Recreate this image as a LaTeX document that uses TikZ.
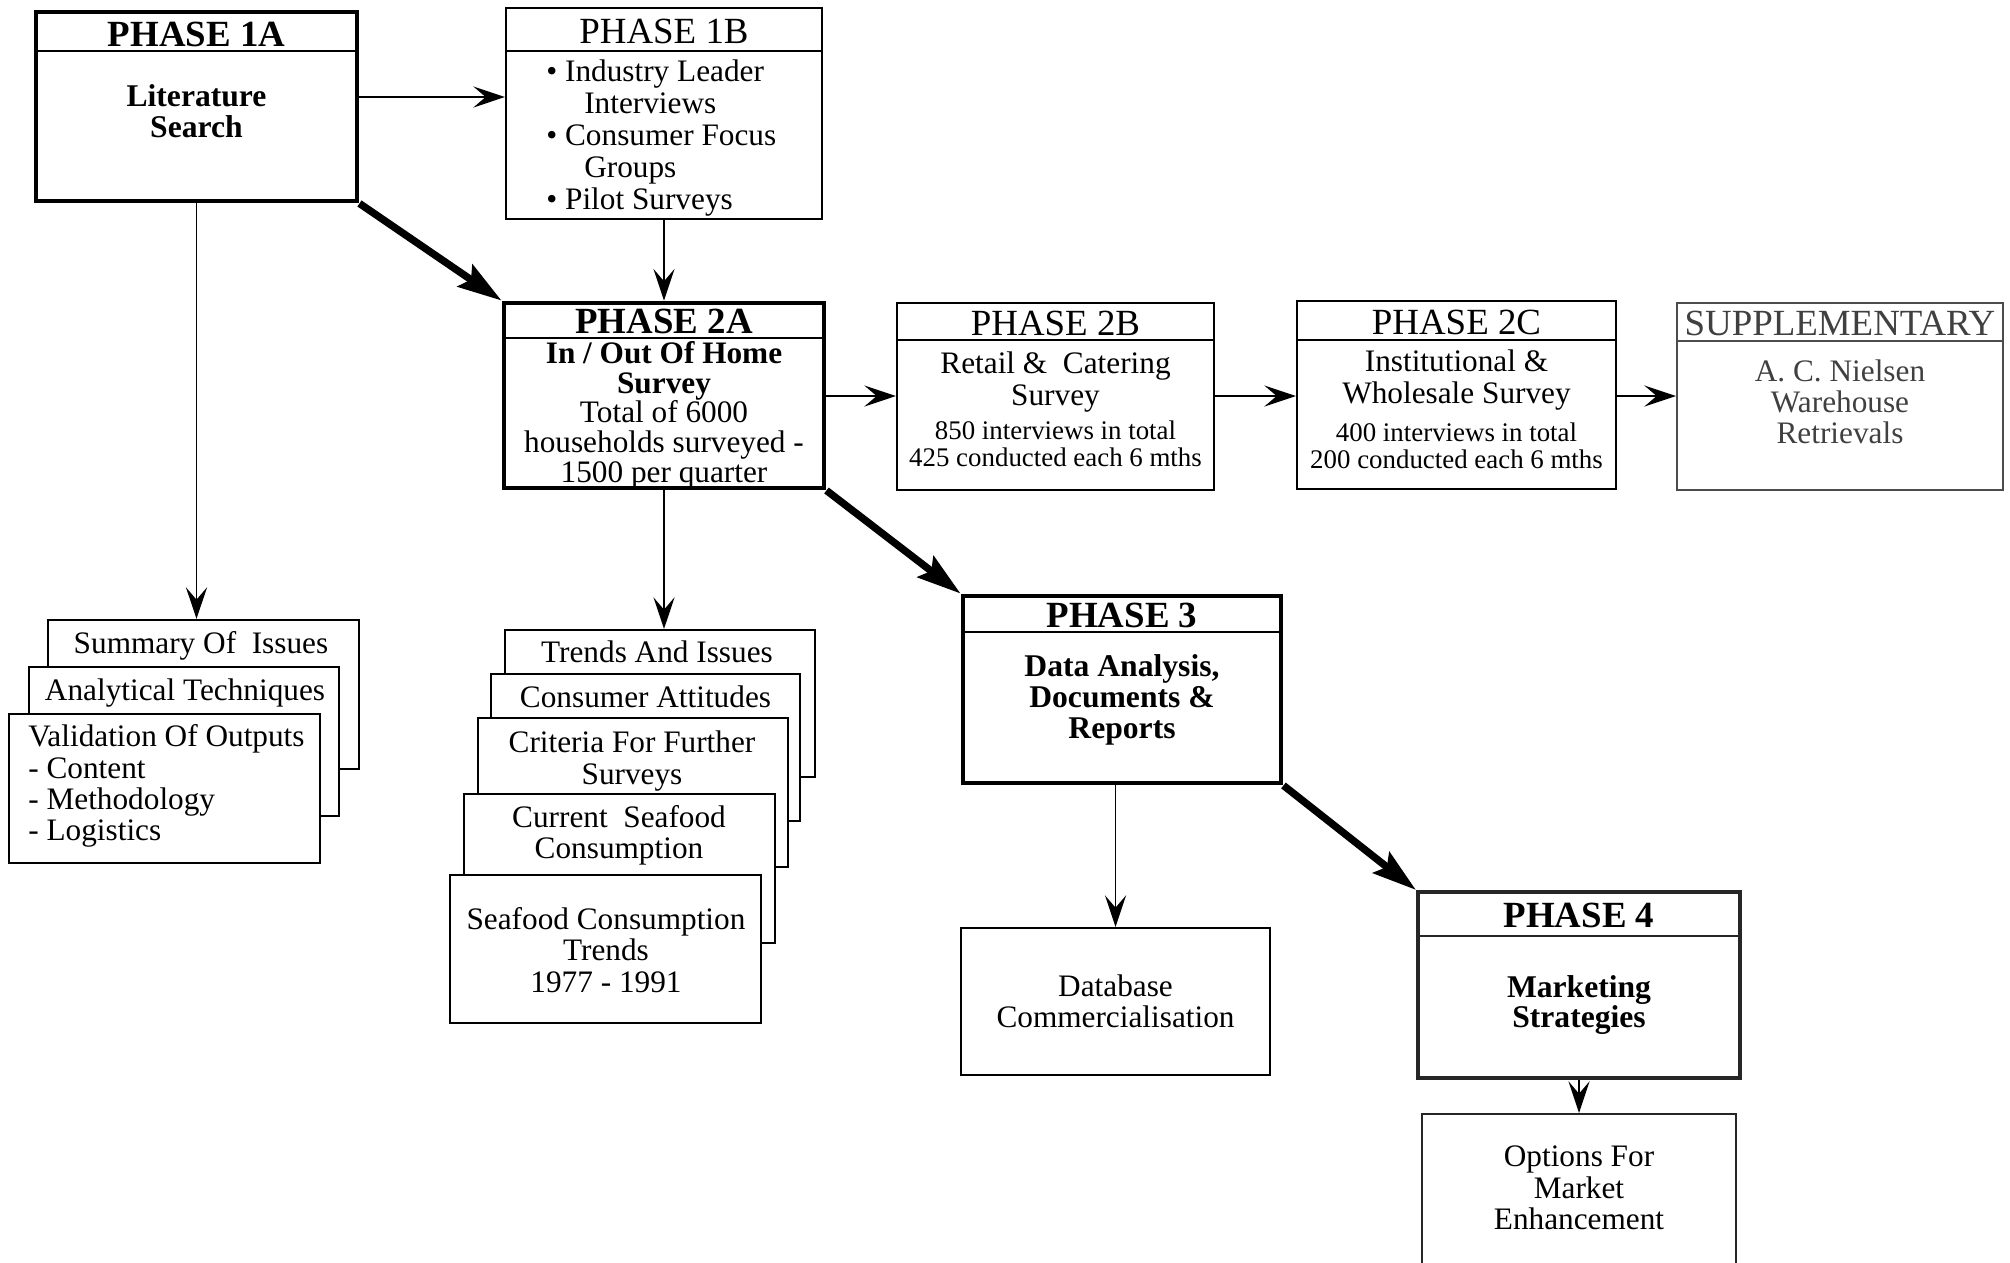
\documentclass[tikz,border=0pt]{standalone}
\usepackage{fontspec}
\setmainfont{Liberation Serif}
\usetikzlibrary{arrows.meta,fit}

\begin{document}
\begin{tikzpicture}[x=0.02cm, y=-0.02cm,
  box/.style={draw, line width=1.2pt, fill=white, inner sep=0pt},
  bigbox/.style={box, line width=2.8pt},
  head/.style={inner sep=0pt, font=\fontsize{21}{22}\selectfont},
  bhead/.style={inner sep=0pt, font=\bfseries\fontsize{21}{22}\selectfont},
  txt/.style={inner sep=0pt, align=center, font=\fontsize{17.8}{17.8}\selectfont},
  btxt/.style={txt, font=\bfseries\fontsize{18}{17.6}\selectfont},
  small/.style={txt, font=\fontsize{15.3}{15.3}\selectfont},
  arr/.style={line width=1.1pt, -{Stealth[length=18pt, width=12pt, inset=7pt]}},
  bigarr/.style={line width=4.2pt, -{Stealth[length=25pt, width=15pt, inset=4pt]}}]
\useasboundingbox (0,0) rectangle (2010,1262);
\clip (0,0) rectangle (2010,1262);

% Phase 1A
\node[bigbox, fit={(36,12) (357,201)}] (p1a) {};
\draw[line width=1.6pt] (36,51) -- (357,51);
\node[bhead] (p1a-h) at (196.5,34) {PHASE 1A};
\node[btxt] (p1a-t) at (196.5,111) {Literature\\Search};

% Phase 1B
\node[box, fit={(506,8) (822,219)}] (p1b) {};
\draw[line width=1.2pt] (506,51) -- (822,51);
\node[head] (p1b-h) at (664,31) {PHASE 1B};
\node[txt, align=left, anchor=west, font=\fontsize{17.8}{18.2}\selectfont] (p1b-t) at (546,138) {\textbullet{} Industry Leader\\\hspace*{21.6pt}Interviews\\\textbullet{} Consumer Focus\\\hspace*{21.6pt}Groups\\\textbullet{} Pilot Surveys};

% Phase 2A
\node[bigbox, fit={(504,303) (824,488)}] (p2a) {};
\draw[line width=1.6pt] (504,338) -- (824,338);
\node[bhead] (p2a-h) at (664,321) {PHASE 2A};
\node[txt, font=\fontsize{17.8}{16.9}\selectfont] (p2a-t) at (664,415) {\textbf{In / Out Of Home}\\\textbf{Survey}\\Total of 6000\\households surveyed -\\1500 per quarter};

% Phase 2B
\node[box, fit={(897,303) (1214,490)}] (p2b) {};
\draw[line width=1.2pt] (897,340) -- (1214,340);
\node[head] (p2b-h) at (1055.5,323) {PHASE 2B};
\node[txt] (p2b-t) at (1055.5,382) {Retail \&\ \ Catering\\Survey};
\node[small] (p2b-n) at (1055.5,444) {850 interviews in total\\425 conducted each 6 mths};

% Phase 2C
\node[box, fit={(1297,301) (1616,489)}] (p2c) {};
\draw[line width=1.2pt] (1297,340) -- (1616,340);
\node[head] (p2c-h) at (1456.5,322) {PHASE 2C};
\node[txt] (p2c-t) at (1456.5,380) {Institutional \&\\Wholesale Survey};
\node[small] (p2c-n) at (1456.5,446) {400 interviews in total\\200 conducted each 6 mths};

% Supplementary
\node[box, draw=black!70, fit={(1677,303) (2003,490)}] (sup) {};
\draw[line width=1.2pt, black!70] (1677,341) -- (2003,341);
\node[head, text=black!75] (sup-h) at (1840,323) {SUPPLEMENTARY};
\node[txt, text=black!75] (sup-t) at (1840,402) {A. C. Nielsen\\Warehouse\\Retrievals};

% Phase 3
\node[bigbox, fit={(963,596) (1281,783)}] (p3) {};
\draw[line width=1.6pt] (963,632) -- (1281,632);
\node[bhead] (p3-h) at (1122,615) {PHASE 3};
\node[btxt] (p3-t) at (1122,700) {Data Analysis,\\Documents \&\\Reports};

% Database
\node[box, fit={(961,928) (1270,1075)}] (db) {};
\node[txt] (db-t) at (1115.5,1001) {Database\\Commercialisation};

% Phase 4
\node[bigbox, line width=2.4pt, draw=black!85, fit={(1418,892) (1740,1078)}] (p4) {};
\draw[line width=1.6pt, black!85] (1418,936) -- (1740,936);
\node[bhead] (p4-h) at (1579,915) {PHASE 4};
\node[btxt] (p4-t) at (1579,1005) {Marketing\\Strategies};

% Options
\node[box, draw=black!85, fit={(1422,1114) (1736,1300)}] (opt) {};
\node[txt] (opt-t) at (1579,1188) {Options For\\Market\\Enhancement};

% stack under phase 1A
\node[box, fit={(48,620) (359,769)}] (s1) {};
\node[txt] (s1-t) at (201,646) {Summary Of\ \ Issues};
\node[box, fit={(29,667) (339,816)}] (s2) {};
\node[txt] (s2-t) at (185,693) {Analytical Techniques};
\node[box, fit={(9,714) (320,863)}] (s3) {};
\node[txt, align=left, anchor=west] (s3-t) at (28,786) {Validation Of Outputs\\- Content\\- Methodology\\- Logistics};

% stack under phase 2A
\node[box, fit={(505,630) (815,777)}] (t1) {};
\node[txt] (t1-t) at (657,652) {Trends And Issues};
\node[box, fit={(491,674) (800,821)}] (t2) {};
\node[txt] (t2-t) at (645.5,697) {Consumer Attitudes};
\node[box, fit={(478,718) (788,867)}] (t3) {};
\node[txt] (t3-t) at (632,761) {Criteria For Further\\Surveys};
\node[box, fit={(464,794) (775,943)}] (t4) {};
\node[txt] (t4-t) at (619,835) {Current\ \ Seafood\\Consumption};
\node[box, fit={(450,875) (761,1023)}] (t5) {};
\node[txt] (t5-t) at (606,950) {Seafood Consumption\\Trends\\1977 - 1991};

% arrows
\draw[arr] (p1a.east |- 0,97) -- (p1b.west |- 0,97);
\draw[arr] (p1b.south) -- (p1b.south |- p2a.north);
\draw[arr] (p2a.east |- 0,396) -- (p2b.west |- 0,396);
\draw[arr] (p2b.east |- 0,396) -- (p2c.west |- 0,396);
\draw[arr] (p2c.east |- 0,396) -- (sup.west |- 0,396);
\draw[arr] (p1a.south) -- (p1a.south |- s1.north);
\draw[arr] (p2a.south) -- (p2a.south |- t1.north);
\draw[arr] (db.north |- p3.south) -- (db.north);
\draw[arr] (p4.south) -- (p4.south |- opt.north);
\draw[bigarr] (p1a.south east) -- (p2a.north west);
\draw[bigarr] (p2a.south east) -- (p3.north west);
\draw[bigarr] (p3.south east) -- (p4.north west);
\end{tikzpicture}
\end{document}
